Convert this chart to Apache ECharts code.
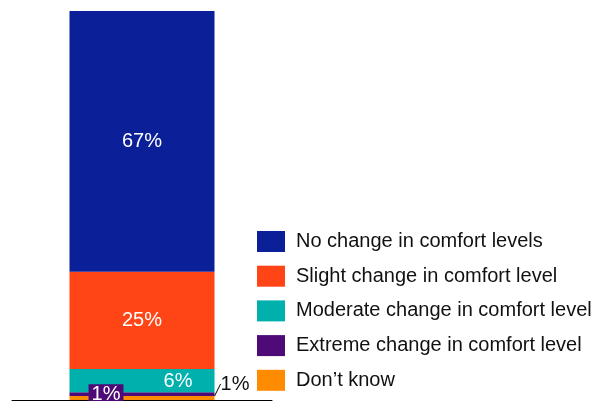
<!DOCTYPE html>
<html>
<head>
<meta charset="utf-8">
<script src="https://cdn.jsdelivr.net/npm/echarts@6/dist/echarts.min.js"></script>
<style>
  html, body { margin: 0; padding: 0; background: #fff; }
  #chart { width: 598px; height: 401px; }
</style>
</head>
<body>
<div id="chart"></div>
<script>
// data
var categories = [''];
var seriesNames = [
  'Don\u2019t know',
  'Extreme change in comfort level',
  'Moderate change in comfort level',
  'Slight change in comfort level',
  'No change in comfort levels'
];
var dontKnow = [1];
var extremeChange = [1];
var moderateChange = [6];
var slightChange = [25];
var noChange = [67];
var colors = ['#ff8c00', '#4e0a77', '#00b0ac', '#ff4516', '#0b1f99'];

var chart = echarts.init(document.getElementById('chart'));

var mkSeries = function (name, data, color, label, extra) {
  var s = {
    name: name,
    type: 'bar',
    stack: 'total',
    data: data,
    barWidth: 145,
    itemStyle: { color: color },
    label: Object.assign({
      show: true,
      formatter: '{c}%',
      color: '#fff',
      fontFamily: '"Liberation Sans", Arial, sans-serif',
      fontSize: 20
    }, label)
  };
  return Object.assign(s, extra || {});
};

var option = {
  animation: false,
  color: colors,
  grid: { left: 12, right: 326, top: 11, bottom: 1 },
  legend: {
    orient: 'vertical',
    left: 252,
    top: 226,
    itemWidth: 28,
    itemHeight: 21,
    itemGap: 13.7,
    icon: 'rect',
    data: seriesNames.slice().reverse(),
    textStyle: {
      color: '#111',
      fontFamily: '"Liberation Sans", Arial, sans-serif',
      fontSize: 20,
      padding: [0, 0, 0, 6]
    }
  },
  xAxis: {
    type: 'category',
    data: categories,
    axisLine: { show: true, lineStyle: { color: '#000', width: 1 } },
    axisTick: { show: false },
    axisLabel: { show: false }
  },
  yAxis: {
    type: 'value',
    min: 0,
    max: 100,
    show: false,
    splitLine: { show: false }
  },
  series: [
    mkSeries(seriesNames[0], dontKnow, colors[0], {
      position: 'inside',
      color: '#111'
    }, {
      labelLayout: { x: 235, y: 384, align: 'center', verticalAlign: 'middle' },
      labelLine: { show: true, lineStyle: { color: '#000', width: 1 } }
    }),
    mkSeries(seriesNames[1], extremeChange, colors[1], {
      position: 'inside',
      offset: [-36, 0],
      backgroundColor: colors[1],
      padding: [0, 3, 0, 3]
    }),
    mkSeries(seriesNames[2], moderateChange, colors[2], {
      position: 'inside',
      offset: [36, 1]
    }),
    mkSeries(seriesNames[3], slightChange, colors[3], { position: 'inside' }),
    mkSeries(seriesNames[4], noChange, colors[4], { position: 'inside' })
  ]
};

chart.setOption(option);
</script>
</body>
</html>
